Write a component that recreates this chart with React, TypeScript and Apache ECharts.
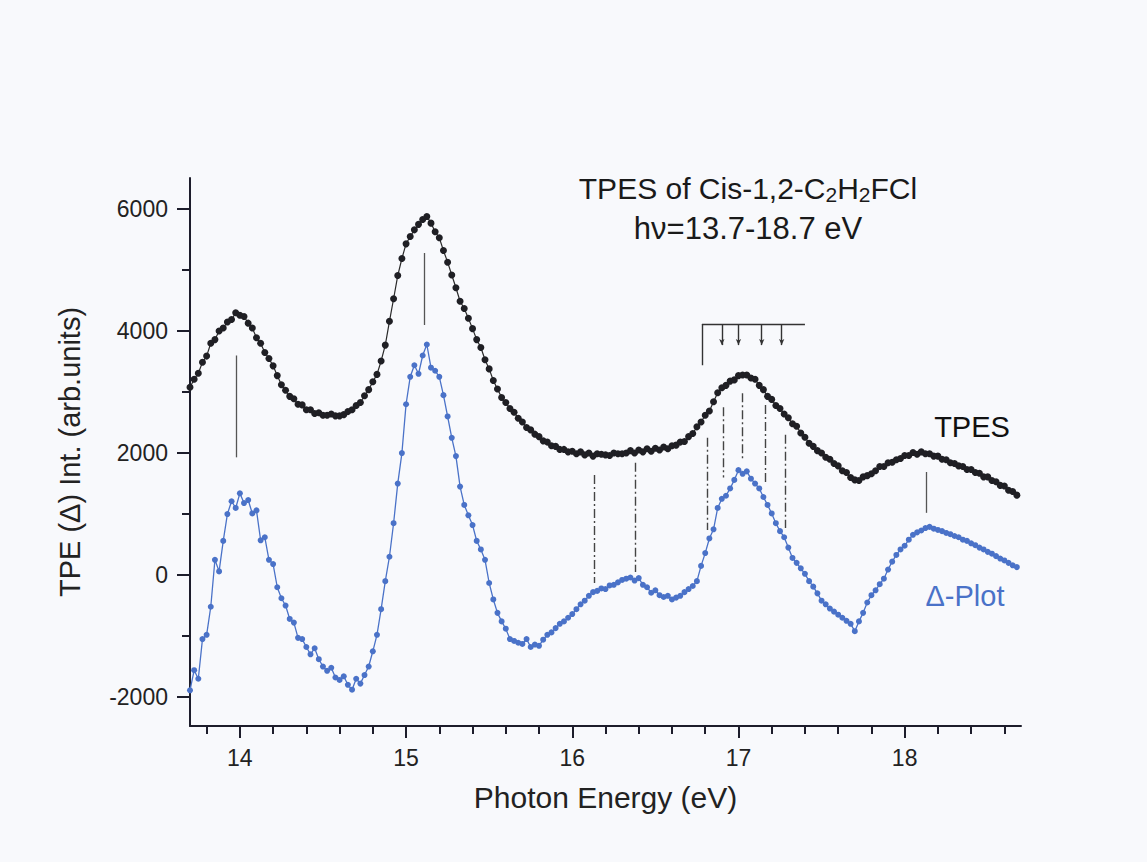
import React, { useEffect, useRef } from "react";
import * as echarts from "echarts";

// Photon energy grid (eV): first point and step of the recorded scans
const energyStart = 13.7;
const energyStep = 0.025;

// TPES intensity (arb. units)
const tpesValues = [
  3080, 3210, 3310, 3490, 3590, 3800, 3860, 4000, 4050, 4150,
  4190, 4300, 4260, 4240, 4130, 4050, 3890, 3800, 3650, 3550,
  3430, 3270, 3120, 3030, 2930, 2890, 2800, 2790, 2710, 2710,
  2650, 2660, 2620, 2620, 2640, 2610, 2610, 2630, 2680, 2710,
  2780, 2830, 2940, 3040, 3170, 3290, 3510, 3770, 4160, 4530,
  4910, 5190, 5430, 5550, 5660, 5750, 5830, 5880, 5770, 5630,
  5530, 5320, 5130, 4920, 4710, 4490, 4370, 4210, 4040, 3860,
  3730, 3530, 3380, 3190, 3050, 2910, 2830, 2730, 2670, 2570,
  2510, 2420, 2380, 2310, 2270, 2200, 2180, 2120, 2110, 2060,
  2060, 2020, 2030, 1990, 2020, 1970, 2000, 1950, 1990, 1980,
  1970, 1960, 2000, 1990, 1990, 2000, 2040, 2000, 2050, 2020,
  2070, 2030, 2080, 2050, 2100, 2070, 2120, 2130, 2180, 2190,
  2270, 2320, 2430, 2510, 2620, 2690, 2840, 2990, 3070, 3110,
  3180, 3200, 3270, 3280, 3280, 3230, 3210, 3110, 3040, 2930,
  2880, 2780, 2730, 2640, 2580, 2480, 2440, 2330, 2260, 2160,
  2110, 2040, 2000, 1930, 1900, 1830, 1790, 1710, 1680, 1600,
  1560, 1550, 1610, 1630, 1660, 1710, 1780, 1780, 1840, 1850,
  1890, 1910, 1960, 1960, 2010, 1980, 2020, 1990, 1990, 1950,
  1950, 1900, 1890, 1840, 1830, 1790, 1780, 1730, 1730, 1680,
  1670, 1610, 1610, 1550, 1530, 1470, 1460, 1390, 1370, 1310,
];

// Delta-plot intensity (arb. units)
const deltaValues = [
  -1890, -1560, -1700, -1050, -980, -520, 250, 60, 560, 1000,
  1210, 1100, 1340, 1180, 1230, 1010, 1060, 570, 620, 250,
  180, -200, -380, -500, -720, -780, -1030, -1050, -1180, -1300,
  -1200, -1380, -1500, -1570, -1520, -1680, -1720, -1660, -1800, -1880,
  -1700, -1780, -1640, -1500, -1250, -980, -560, -100, 300, 850,
  1500, 2000, 2800, 3250, 3440, 3300, 3600, 3780, 3400, 3350,
  3250, 2950, 2600, 2250, 1950, 1450, 1150, 980, 820, 560,
  420, 250, -130, -400, -620, -760, -880, -1050, -1080, -1110,
  -1130, -1050, -1180, -1140, -1160, -1060, -980, -940, -870, -800,
  -760, -700, -640, -560, -480, -420, -340, -280, -260, -220,
  -230, -170, -160, -120, -80, -60, -40, -90, -50, -160,
  -200, -290, -250, -330, -360, -340, -400, -370, -340, -280,
  -230, -180, -100, 150, 360, 600, 750, 1100, 1250, 1300,
  1420, 1560, 1720, 1660, 1700, 1580, 1500, 1420, 1280, 1150,
  1010, 850, 720, 620, 450, 280, 200, 110, 20, -100,
  -190, -300, -420, -480, -550, -600, -650, -700, -750, -800,
  -920, -760, -620, -450, -330, -250, -150, -60, 90, 220,
  330, 420, 480, 580, 660, 700, 730, 770, 790, 760,
  740, 720, 690, 670, 640, 620, 580, 560, 520, 490,
  450, 420, 380, 350, 310, 270, 240, 200, 160, 130,
];

// Solid assignment lines: [energy, top value, bottom value]
const solidMarks = [
  [13.98, 3600, 1930],
  [15.11, 5280, 4100],
  [18.13, 1690, 1020],
];

// Dash-dot lines linking TPES and delta-plot features: [energy, top, bottom]
const dashMarks = [
  [16.13, 1640, -130],
  [16.38, 1840, 50],
  [16.81, 2250, 740],
  [16.91, 2750, 1600],
  [17.02, 2980, 1880],
  [17.16, 2790, 1520],
  [17.28, 2300, 770],
];

// Vibrational comb: bar level, start/end energy, long tick end, arrows
const combLevel = 4115;
const combStart = 16.78;
const combEnd = 17.4;
const combLongEnd = 3440;
const combArrows = [16.9, 17.0, 17.14, 17.26];
const combArrowEnd = 3770;

// Axis ticks
const xMajorTicks = [14, 15, 16, 17, 18];
const xMinorTicks = [13.8, 14.2, 14.4, 14.6, 14.8, 15.2, 15.4, 15.6, 15.8, 16.2, 16.4, 16.6, 16.8,
  17.2, 17.4, 17.6, 17.8, 18.2, 18.4, 18.6];
const yMajorTicks = [-2000, 0, 2000, 4000, 6000];
const yMinorTicks = [-1000, 1000, 3000, 5000];

const X_MIN = 13.7;
const X_MAX = 18.7;
const Y_MIN = -2475;
const Y_MAX = 6510;

const FONT = "'Liberation Sans', Arial, Helvetica, sans-serif";
const AXIS_COLOR = "#1d1d2b";
const BLUE = "#4a72c8";

export default function App() {
  const ref = useRef<HTMLDivElement>(null);

  useEffect(() => {
    if (!ref.current) return;
    const chart = echarts.init(ref.current, undefined, { renderer: "svg" });

    const energies = tpesValues.map((_, i) => +(energyStart + i * energyStep).toFixed(3));

    const markData: any[] = [];
    solidMarks.forEach((m) => {
      markData.push([
        { coord: [m[0], m[1]], lineStyle: { color: "#555", width: 1.3, type: "solid" }, symbol: "none" },
        { coord: [m[0], m[2]], symbol: "none" },
      ]);
    });
    dashMarks.forEach((m) => {
      markData.push([
        { coord: [m[0], m[1]], lineStyle: { color: "#444", width: 1.4, type: [9, 3, 2, 3] }, symbol: "none" },
        { coord: [m[0], m[2]], symbol: "none" },
      ]);
    });
    markData.push([
      { coord: [combStart, combLevel], lineStyle: { color: "#333", width: 1.4, type: "solid" }, symbol: "none" },
      { coord: [combEnd, combLevel], symbol: "none" },
    ]);
    markData.push([
      { coord: [combStart, combLevel], lineStyle: { color: "#333", width: 1.4, type: "solid" }, symbol: "none" },
      { coord: [combStart, combLongEnd], symbol: "none" },
    ]);
    combArrows.forEach((e) => {
      markData.push([
        { coord: [e, combLevel], lineStyle: { color: "#333", width: 1.4, type: "solid" }, symbol: "none" },
        { coord: [e, combArrowEnd], symbol: "arrow", symbolSize: [4, 6] },
      ]);
    });

    const plainNumber = (v: number) => String(v);

    const option: any = {
      animation: false,
      backgroundColor: "#f8f9fc",
      grid: { left: 190, right: 126, top: 178, bottom: 136, containLabel: false },
      xAxis: [
        {
          type: "value",
          min: X_MIN,
          max: X_MAX,
          position: "bottom",
          axisLine: { show: true, onZero: false, lineStyle: { color: AXIS_COLOR, width: 2 } },
          axisTick: { show: true, inside: false, length: 12, customValues: xMajorTicks, lineStyle: { color: AXIS_COLOR, width: 2 } },
          axisLabel: { show: true, customValues: xMajorTicks, formatter: plainNumber, margin: 20, fontSize: 23, color: "#222", fontFamily: FONT },
          splitLine: { show: false },
          name: "Photon Energy (eV)",
          nameLocation: "middle",
          nameGap: 56,
          nameMoveOverlap: false,
          nameTextStyle: { fontSize: 30, color: "#222", fontFamily: FONT },
        },
        {
          type: "value",
          min: X_MIN,
          max: X_MAX,
          position: "bottom",
          axisLine: { show: false, onZero: false },
          axisTick: { show: true, inside: false, length: 8, customValues: xMinorTicks, lineStyle: { color: AXIS_COLOR, width: 2 } },
          axisLabel: { show: false },
          splitLine: { show: false },
        },
      ],
      yAxis: [
        {
          type: "value",
          min: Y_MIN,
          max: Y_MAX,
          position: "left",
          axisLine: { show: true, onZero: false, lineStyle: { color: AXIS_COLOR, width: 2 } },
          axisTick: { show: true, inside: false, length: 13, customValues: yMajorTicks, lineStyle: { color: AXIS_COLOR, width: 2 } },
          axisLabel: { show: true, customValues: yMajorTicks, formatter: plainNumber, margin: 22, fontSize: 23, color: "#222", fontFamily: FONT },
          splitLine: { show: false },
          name: "TPE (Δ) Int. (arb.units)",
          nameLocation: "middle",
          nameGap: 106,
          nameRotate: 90,
          nameMoveOverlap: false,
          nameTextStyle: { fontSize: 29, color: "#222", fontFamily: FONT },
        },
        {
          type: "value",
          min: Y_MIN,
          max: Y_MAX,
          position: "left",
          axisLine: { show: false, onZero: false },
          axisTick: { show: true, inside: false, length: 8, customValues: yMinorTicks, lineStyle: { color: AXIS_COLOR, width: 2 } },
          axisLabel: { show: false },
          splitLine: { show: false },
        },
      ],
      series: [
        {
          name: "TPES",
          type: "line",
          xAxisIndex: 0,
          yAxisIndex: 0,
          data: tpesValues.map((v, i) => [energies[i], v]),
          symbol: "circle",
          symbolSize: 7,
          showAllSymbol: true,
          lineStyle: { color: "#2a2a2a", width: 1.2 },
          itemStyle: { color: "#1f1f24" },
          markLine: { silent: true, symbol: ["none", "none"], label: { show: false }, data: markData },
          z: 3,
        },
        {
          name: "Δ-Plot",
          type: "line",
          xAxisIndex: 0,
          yAxisIndex: 0,
          data: deltaValues.map((v, i) => [energies[i], v]),
          symbol: "circle",
          symbolSize: 6,
          showAllSymbol: true,
          lineStyle: { color: BLUE, width: 1.3 },
          itemStyle: { color: BLUE },
          z: 2,
        },
      ],
      graphic: [
        {
          type: "text",
          x: 748,
          y: 188,
          style: {
            text: "{a|TPES of Cis-1,2-C}{s|2}{a|H}{s|2}{a|FCl}",
            align: "center",
            verticalAlign: "middle",
            rich: {
              a: { fontSize: 30, fontFamily: FONT, fill: "#1a1a1a", lineHeight: 34 },
              s: { fontSize: 21, fontFamily: FONT, fill: "#1a1a1a", lineHeight: 4, verticalAlign: "bottom" },
            },
          },
        },
        {
          type: "text",
          x: 748,
          y: 228,
          style: { text: "hν=13.7-18.7 eV", align: "center", verticalAlign: "middle", fontSize: 31, fontFamily: FONT, fill: "#1a1a1a" },
        },
        {
          type: "text",
          x: 972,
          y: 427,
          style: { text: "TPES", align: "center", verticalAlign: "middle", fontSize: 29, fontFamily: FONT, fill: "#111" },
        },
        {
          type: "text",
          x: 965,
          y: 596,
          style: { text: "Δ-Plot", align: "center", verticalAlign: "middle", fontSize: 29, fontFamily: FONT, fill: BLUE },
        },
      ],
    };

    chart.setOption(option);
    return () => chart.dispose();
  }, []);

  return <div ref={ref} style={{ position: "fixed", left: 0, top: 0, width: 1147, height: 862 }} />;
}
